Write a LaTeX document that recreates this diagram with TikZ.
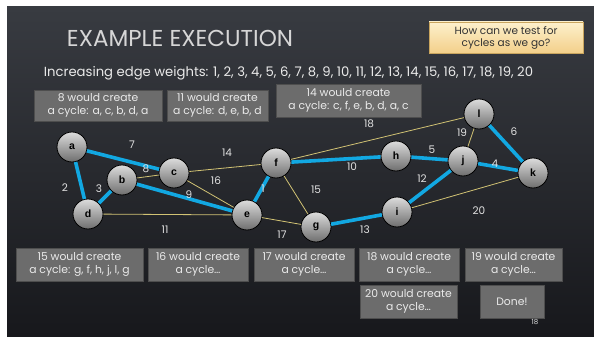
\documentclass[tikz,border=0pt]{standalone}
\usepackage{fontspec}
\setmainfont{Poppins}
\setsansfont{Liberation Sans}
\definecolor{bgtop}{HTML}{383B41}
\definecolor{bgbot}{HTML}{17181C}
\definecolor{edgeblue}{HTML}{12A8E2}
\definecolor{edgeyel}{HTML}{D2C374}
\definecolor{boxfill}{HTML}{6C6C6C}
\definecolor{boxline}{HTML}{4E4E4E}
\definecolor{boxtext}{HTML}{EAEAEA}
\definecolor{lbl}{HTML}{E2E2E2}
\definecolor{titlecol}{HTML}{D6D6D6}
\definecolor{nodetop}{HTML}{DCDCDC}
\definecolor{nodebot}{HTML}{6E6E6E}
\definecolor{calltop}{HTML}{FDF0CC}
\definecolor{callbot}{HTML}{F3D08A}
\definecolor{callline}{HTML}{C9A55E}
\begin{document}
\begin{tikzpicture}[x=1pt,y=-1pt,
  vert/.style={circle, draw=black, line width=0.8pt, minimum size=30pt, inner sep=0pt,
    top color=nodetop, bottom color=nodebot, text=black,
    font=\sffamily\bfseries\fontsize{10.5}{12}\selectfont},
  msgbox/.style={rectangle, fill=boxfill, draw=boxline, line width=0.8pt, text=boxtext,
    align=center, inner sep=1pt, font=\fontsize{10.8}{12.5}\selectfont},
  mst/.style={draw=edgeblue, line width=3.6pt},
  rej/.style={draw=edgeyel, line width=0.8pt},
  wt/.style={text=lbl, font=\fontsize{10.5}{11}\selectfont, inner sep=0pt}
]
\useasboundingbox (0,0) rectangle (594,337);
\fill[white] (0,0) rectangle (594,337);
\shade[top color=bgtop, bottom color=bgbot] (7,7) rectangle (594,337);

% title
\node[text=titlecol, font=\fontsize{23}{26}\selectfont, inner sep=0pt] (title) at (180,38) {EXAMPLE EXECUTION};

% callout
\node[rectangle, draw=callline, line width=0.8pt, top color=calltop, bottom color=callbot,
  minimum width=154pt, minimum height=31pt, align=center, text=black!80,
  font=\fontsize{10.5}{12}\selectfont, inner sep=1pt] (call) at (506,37.5)
  {How can we test for\\cycles as we go?};

\node[text=boxtext, font=\fontsize{13.2}{15}\selectfont, inner sep=0pt] (weights) at (288.5,73)
  {Increasing edge weights: 1, 2, 3, 4, 5, 6, 7, 8, 9, 10, 11, 12, 13, 14, 15, 16, 17, 18, 19, 20};

% message boxes
\node[msgbox, minimum width=128pt, minimum height=31pt] (m8) at (98,105.5) {8 would create\\a cycle: a, c, b, d, a};
\node[msgbox, minimum width=101pt, minimum height=31pt] (m11) at (217.5,105.5) {11 would create\\a cycle: d, e, b, d};
\node[msgbox, minimum width=145pt, minimum height=33pt] (m14) at (348.5,100.5) {14 would create\\a cycle: c, f, e, b, d, a, c};

\node[msgbox, minimum width=127pt, minimum height=33pt] (m15) at (79.5,264.5) {15 would create\\a cycle: g, f, h, j, l, g};
\node[msgbox, minimum width=100pt, minimum height=33pt] (m16) at (198,264.5) {16 would create\\a cycle\ldots};
\node[msgbox, minimum width=100pt, minimum height=33pt] (m17) at (304,264.5) {17 would create\\a cycle\ldots};
\node[msgbox, minimum width=100pt, minimum height=33pt] (m18) at (409,264.5) {18 would create\\a cycle\ldots};
\node[msgbox, minimum width=97pt, minimum height=33pt] (m19) at (513.5,264.5) {19 would create\\a cycle\ldots};
\node[msgbox, minimum width=97pt, minimum height=33pt] (m20) at (408.5,301.5) {20 would create\\a cycle\ldots};
\node[msgbox, minimum width=64pt, minimum height=33pt] (done) at (512,301.5) {Done!};
\node[text=lbl, font=\fontsize{7}{8}\selectfont, inner sep=0pt] (pg) at (535,322) {18};

% vertices
\node[vert] (a) at (72,147) {a};
\node[vert] (b) at (122,180) {b};
\node[vert] (c) at (174,173) {c};
\node[vert] (d) at (88,214) {d};
\node[vert] (e) at (247,215) {e};
\node[vert] (f) at (276,163) {f};
\node[vert] (g) at (316,227) {g};
\node[vert] (h) at (396,156) {h};
\node[vert] (j) at (463,161) {j};
\node[vert] (l) at (479,114) {l};
\node[vert] (k) at (533,173) {k};
\node[vert] (i) at (397,212) {i};

% rejected edges
\path[rej] (b) -- (c);
\path[rej] (c) -- (f);
\path[rej] (c) -- (e);
\path[rej] (d) -- (e);
\path[rej] (e) -- (g);
\path[rej] (f) -- (g);
\path[rej] (f) -- (l);
\path[rej] (j) -- (l);
\path[rej] (i) -- (k);
% tree edges
\path[mst] (a) -- (c);
\path[mst] (a) -- (d);
\path[mst] (b) -- (d);
\path[mst] (b) -- (e);
\path[mst] (e) -- (f);
\path[mst] (f) -- (h);
\path[mst] (h) -- (j);
\path[mst] (j) -- (k);
\path[mst] (l) -- (k);
\path[mst] (i) -- (j);
\path[mst] (g) -- (i);

% weights
\node[wt] (w7) at (132,145) {7};
\node[wt] (w2) at (65,188) {2};
\node[wt] (w3) at (99,189) {3};
\node[wt] (w8) at (146,169) {8};
\node[wt] (w14) at (227,153) {14};
\node[wt] (w16) at (216,181) {16};
\node[wt] (w9) at (189,195) {9};
\node[wt] (w1) at (263,189) {1};
\node[wt] (w15) at (316,190) {15};
\node[wt] (w11) at (165,230) {11};
\node[wt] (w17) at (282,235) {17};
\node[wt] (w18) at (369,124) {18};
\node[wt] (w10) at (352,167) {10};
\node[wt] (w5) at (432,150) {5};
\node[wt] (w19) at (462,133) {19};
\node[wt] (w6) at (514,132) {6};
\node[wt] (w4) at (495,164) {4};
\node[wt] (w12) at (422,179) {12};
\node[wt] (w13) at (365,230) {13};
\node[wt] (w20) at (479,211) {20};
\end{tikzpicture}
\end{document}
